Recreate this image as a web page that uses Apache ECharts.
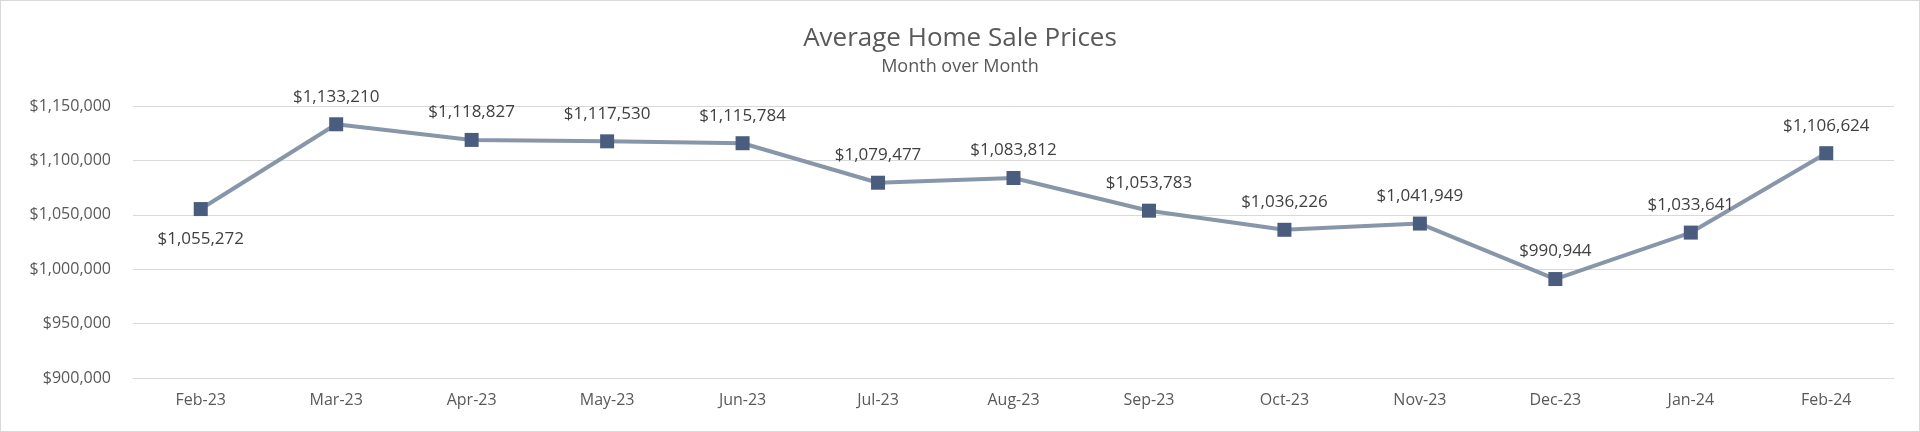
<!DOCTYPE html>
<html>
<head>
<meta charset="utf-8">
<script src="https://cdn.jsdelivr.net/npm/echarts@6/dist/echarts.min.js"></script>
<style>
html, body { margin: 0; padding: 0; background: #fff; }
#chart { width: 1918px; height: 430px; border: 1px solid #d9d9d9; }
</style>
</head>
<body>
<div id="chart"></div>
<script>
var months = ['Feb-23', 'Mar-23', 'Apr-23', 'May-23', 'Jun-23', 'Jul-23', 'Aug-23',
    'Sep-23', 'Oct-23', 'Nov-23', 'Dec-23', 'Jan-24', 'Feb-24'];
var prices = [1055272, 1133210, 1118827, 1117530, 1115784, 1079477, 1083812,
    1053783, 1036226, 1041949, 990944, 1033641, 1106624];

function money(v) {
    return '$' + Math.round(v).toString().replace(/\B(?=(\d{3})+(?!\d))/g, ',');
}

var chart = echarts.init(document.getElementById('chart'));
var font = 'Open Sans';
chart.setOption({
    textStyle: { fontFamily: font },
    title: {
        left: 'center',
        top: 20,
        text: 'Average Home Sale Prices',
        subtext: 'Month over Month',
        itemGap: 6,
        textStyle: { fontFamily: font, fontSize: 26, fontWeight: 'normal', color: '#595959' },
        subtextStyle: { fontFamily: font, fontSize: 18, color: '#595959' }
    },
    grid: { left: 132, right: 25, top: 105, bottom: 53 },
    xAxis: {
        type: 'category',
        data: months,
        axisTick: { show: false },
        axisLine: { lineStyle: { color: '#d9d9d9' } },
        axisLabel: { color: '#595959', fontSize: 16, margin: 14 }
    },
    yAxis: {
        type: 'value',
        min: 900000,
        max: 1150000,
        interval: 50000,
        axisLabel: { color: '#595959', fontSize: 16, formatter: money, margin: 22 },
        splitLine: { lineStyle: { color: '#d9d9d9' } }
    },
    series: [{
        type: 'line',
        data: prices,
        symbol: 'rect',
        symbolSize: 14,
        itemStyle: { color: '#4a5d7e' },
        lineStyle: { color: '#8896aa', width: 4 },
        label: {
            show: true,
            position: 'top',
            distance: 12,
            color: '#404040',
            fontSize: 17,
            formatter: function (p) { return money(p.value); }
        },
        labelLayout: function (p) {
            return p.dataIndex === 0 ? { dy: 58 } : {};
        },
        animation: false
    }]
});
</script>
</body>
</html>
